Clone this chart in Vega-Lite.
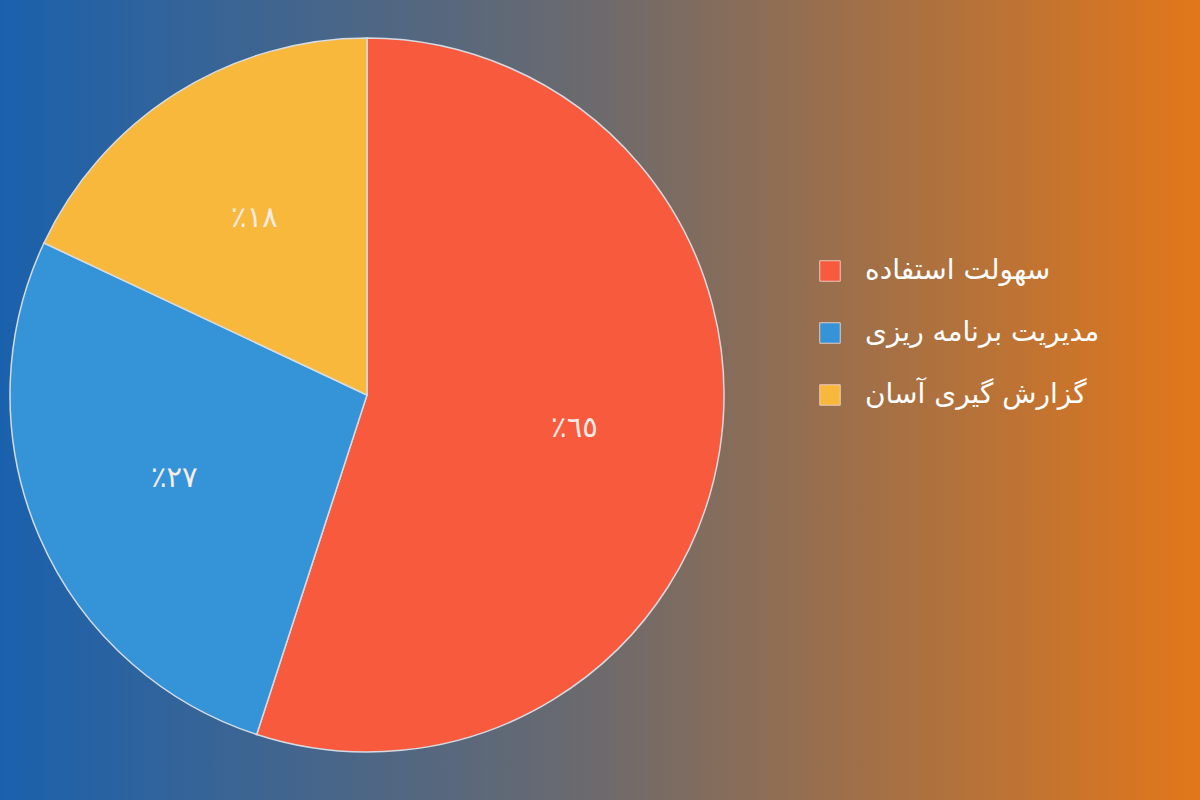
{
  "$schema": "https://vega.github.io/schema/vega-lite/v6.json",
  "width": 1200,
  "height": 800,
  "padding": 0,
  "autosize": {"type": "fit", "contains": "padding"},
  "background": "#6d6a6c",
  "view": {
    "stroke": null,
    "fill": {
      "gradient": "linear",
      "x1": 0, "y1": 0, "x2": 1, "y2": 0,
      "stops": [
        {"offset": 0, "color": "#1a61ad"},
        {"offset": 0.5, "color": "#6d6a6c"},
        {"offset": 1, "color": "#e2771a"}
      ]
    }
  },
  "data": {
    "values": [
      {"item": "سهولت استفاده", "share": 55, "label": "٪٦٥", "rank": 1},
      {"item": "مدیریت برنامه ریزی", "share": 27, "label": "٪٢٧", "rank": 2},
      {"item": "گزارش گیری آسان", "share": 18, "label": "٪١٨", "rank": 3}
    ]
  },
  "encoding": {
    "theta": {"field": "share", "type": "quantitative", "stack": true},
    "order": {"field": "rank", "type": "quantitative"},
    "color": {
      "field": "item",
      "type": "nominal",
      "sort": ["سهولت استفاده", "مدیریت برنامه ریزی", "گزارش گیری آسان"],
      "scale": {
        "domain": ["سهولت استفاده", "مدیریت برنامه ریزی", "گزارش گیری آسان"],
        "range": ["#f85a3e", "#3594d8", "#f8b83c"]
      },
      "legend": {
        "title": null,
        "orient": "none",
        "legendX": 816,
        "legendY": 257,
        "symbolType": "square",
        "symbolSize": 420,
        "symbolStrokeColor": "#e8c8c0",
        "symbolStrokeWidth": 1,
        "symbolOpacity": 1,
        "labelFont": "DejaVu Sans",
        "labelFontSize": 28,
        "labelColor": "#ffffff",
        "labelOffset": 21,
        "labelLimit": 400,
        "rowPadding": 34
      }
    }
  },
  "layer": [
    {
      "mark": {
        "type": "arc",
        "x": 367,
        "y": 395,
        "outerRadius": 357,
        "stroke": "#d5dbe2",
        "strokeWidth": 1.5
      }
    },
    {
      "mark": {
        "type": "text",
        "x": 367,
        "y": 395,
        "radius": 210,
        "font": "DejaVu Sans",
        "fontSize": 29,
        "fontWeight": 500,
        "color": "#f6ece6",
        "align": "center",
        "baseline": "middle"
      },
      "encoding": {
        "text": {"field": "label"},
        "color": {"value": "#f6ece6"}
      }
    }
  ]
}
